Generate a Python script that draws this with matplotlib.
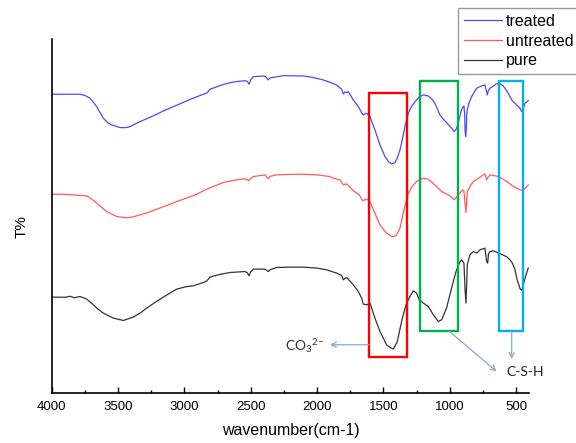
import matplotlib
matplotlib.use('Agg')
import matplotlib.pyplot as plt
from matplotlib.patches import Rectangle
from matplotlib.ticker import MultipleLocator

# ---------------- data ----------------
wn_treated = [4000, 3900, 3787, 3750, 3711, 3661, 3611, 3580, 3548, 3485, 3440, 3410, 3335, 3270,
              3209, 3150, 3083, 2983, 2920, 2857, 2830, 2807, 2730, 2656, 2600, 2543, 2525, 2513,
              2500, 2481, 2393, 2380, 2368, 2355, 2342, 2254, 2104, 2030, 1953, 1900, 1853, 1815,
              1802, 1790, 1777, 1765, 1727, 1689, 1664, 1652, 1640,
              1626, 1601, 1564, 1526, 1488, 1460, 1438, 1413, 1395, 1375, 1355, 1338, 1312, 1290,
              1262, 1230, 1199, 1162, 1135, 1112, 1090, 1074, 1050, 1024, 986, 966, 950, 936, 920,
              911, 900, 893, 888, 884, 880, 876, 872, 868, 855, 835, 815, 797, 772, 750, 735, 725,
              717, 710, 697, 670, 650, 629, 600, 584, 565, 546, 528, 508, 490, 470, 457, 445, 433,
              420, 408]
t_treated = [298.7, 298.7, 298.7, 297.5, 294.7, 286.3, 274.7, 270.5, 268, 265.3, 265.3, 266.3, 271.3, 275,
             278.7, 282.5, 286.3, 292, 295.5, 298.7, 300, 303.7, 307.5, 310.3, 311.5, 312.3, 311.5, 308.7,
             313, 316.3, 317, 315, 313, 315, 315.3, 317.3, 317, 315.5, 313, 310.5, 308, 303.7,
             299, 301, 300.3, 301.3, 293, 286.3, 280.3, 278, 279,
             279.7, 276.3, 263, 248, 236.3, 231, 229, 230.3, 235, 243, 255, 266.3, 279.7, 286,
             291.3, 296, 298, 297, 294, 289.7, 283, 278, 274, 270.3, 264.7, 261.3, 264, 269.7, 279,
             283, 286, 287, 280, 262, 256.3, 262, 278, 283, 290, 296.3, 301, 304.7, 306.3, 307.5, 308, 303,
             298, 302, 304.7, 307, 309, 309.7, 307.5, 304.7, 301, 296.3, 292, 289.7, 287, 284.7, 281.3, 285, 289.7,
             291, 292.3]

wn_untreated = [4000, 3900, 3736, 3700, 3661, 3620, 3586, 3510, 3435, 3385, 3335, 3270, 3209, 3130,
                3058, 2980, 2907, 2832, 2770, 2707, 2630, 2556, 2530, 2513, 2500, 2481, 2393, 2380,
                2368, 2355, 2305, 2200, 2104, 2000, 1903, 1878, 1827, 1815, 1802, 1777, 1727, 1682,
                1657, 1626, 1601, 1564, 1526, 1481,
                1438, 1405, 1375, 1345, 1312, 1280, 1250, 1199, 1162, 1112, 1061, 1011, 985, 966,
                950, 936, 903, 893, 885, 878, 872, 868, 845, 822, 772, 735, 722, 710, 697, 629, 571,
                545, 521, 490, 470, 451, 430, 408]
t_untreated = [198.7, 198.5, 197, 194, 189.7, 185, 181.3, 176.3, 175, 176, 178, 180.5, 183.7, 187.5,
               191.3, 195, 198.7, 203.7, 207, 210.3, 212.5, 214, 213.5, 212.3, 214.5, 216.3, 218, 216,
               214, 216.5, 218, 218.5, 218.7, 218, 216.3, 214.7, 213, 210.3, 208, 209, 202.3, 198,
               192.3, 193.7, 191.3, 179.7, 168, 160.3,
               156.3, 157, 164.7, 183, 199.7, 207, 211.3, 214.7, 213.7, 208, 201.3, 198, 195.5, 193,
               195.5, 198, 203, 201.3, 190, 180.3, 192, 201.3, 207, 211.3, 215.7, 219, 213, 216, 218, 216.3, 211.3,
               209, 206.3, 204.5, 203, 202.3, 204.7, 208]

wn_pure = [4000, 3900, 3860, 3830, 3787, 3736, 3686, 3650, 3611, 3536, 3460, 3385, 3330, 3284, 3220,
           3159, 3058, 2990, 2933, 2857, 2830, 2807, 2730, 2656, 2543, 2525, 2513, 2500, 2481, 2393,
           2380, 2368, 2355, 2305, 2200, 2104, 2000, 1928, 1853, 1815, 1802, 1790, 1777,
           1727, 1689, 1664, 1652, 1626, 1601, 1564, 1526, 1476, 1440, 1425,
           1395, 1363, 1330, 1300, 1275, 1250, 1230, 1199, 1162, 1124, 1086, 1061, 1024, 986, 953,
           928, 911, 893, 885, 878, 872, 868, 848, 822, 797, 772, 735, 722, 714, 708, 697, 672, 629,
           570, 546, 528, 510, 492, 470, 458, 445, 430, 408]
t_pure = [95.7, 95.5, 96.5, 95, 96.3, 93.7, 88, 83.5, 79.7, 74.7, 72.3, 75.7, 80, 84.7, 90.5,
          95.7, 103.7, 106, 107, 110.3, 112, 115.7, 118.5, 120.3, 121.3, 120, 117, 121, 123.7, 123.7,
          122.5, 121.3, 123, 125.3, 125.7, 125.7, 124.7, 123, 119.7, 117.3, 113, 114.5, 115.3,
          108, 101.3, 94.7, 88.7, 88, 89.7, 74.7, 61.3, 48, 44.5, 43.7,
          51.3, 71.3, 88, 96.3, 102, 99.7, 93, 89.7, 86.3, 78, 71.3, 73, 84.7, 104.7, 121.3,
          129.7, 133, 129.7, 104.7, 89.7, 110, 128, 138, 141.3, 139.7, 143, 144.7, 131.3, 129.7, 139, 141.3, 142, 139.7,
          136, 133, 129.7, 124, 113, 104, 102.5, 108, 116, 124.7]

series_labels = ['treated', 'untreated', 'pure']
series_colors = ['#4a4aff', '#ff5a5a', '#333333']

# highlighted bands: (wn_high, wn_low, t_bottom, t_top)
box_co3 = (1609, 1325, 36, 300.3)
box_csh1 = (1225, 940, 61.3, 312)
box_csh2 = (629, 451, 61.3, 312)
box_colors = ['#ff0000', '#00b050', '#00b0f0']

label_co3 = r'CO$_3$$^{2\mathrm{-}}$'
label_csh = 'C-S-H'

# ---------------- figure ----------------
plt.rcParams['font.family'] = ['Liberation Sans', 'DejaVu Sans']
plt.rcParams['mathtext.fontset'] = 'custom'
plt.rcParams['mathtext.rm'] = 'Lato'
plt.rcParams['mathtext.it'] = 'Lato:italic'
plt.rcParams['mathtext.bf'] = 'Lato:bold'

fig = plt.figure(figsize=(5.76, 4.43), dpi=100)
ax = fig.add_axes([0.0898, 0.1135, 0.8292, 0.7985])

for wn, t, lab, col in zip([wn_treated, wn_untreated, wn_pure],
                           [t_treated, t_untreated, t_pure],
                           series_labels, series_colors):
    ax.plot(wn, t, color=col, lw=0.9, label=lab)

for (w1, w2, b, tp), c in zip([box_co3, box_csh1, box_csh2], box_colors):
    ax.add_patch(Rectangle((w2, b), w1 - w2, tp - b, fill=False, edgecolor=c, lw=1.7, zorder=3))

arrow_col = '#86a8d8'
ap = dict(arrowstyle='->', color=arrow_col, lw=0.9, shrinkA=0, shrinkB=0,
          mutation_scale=9)
# CO3 arrow from left side of red box
ax.annotate('', xy=(1903, 48), xytext=(box_co3[0], 48), arrowprops=ap)
ax.text(2241, 47, label_co3, fontsize=10, family='Lato', color='#333333', ha='left', va='center')
# C-S-H arrows
ax.annotate('', xy=(647, 21.3), xytext=(1002, box_csh1[2]), arrowprops=ap)
ax.annotate('', xy=(533, 33.7), xytext=(533, box_csh2[2]), arrowprops=ap)
ax.text(575, 20.3, label_csh, fontsize=10, family='Lato', color='#222222', ha='left', va='center')

ax.set_xlim(4000, 400)
ax.set_ylim(0, 354)
ax.spines[['top', 'right']].set_visible(False)
ax.spines['left'].set_linewidth(1.2)
ax.spines['bottom'].set_linewidth(1.2)
ax.set_yticks([])
ax.xaxis.set_major_locator(MultipleLocator(500))
ax.xaxis.set_minor_locator(MultipleLocator(250))
ax.tick_params(axis='x', which='major', direction='in', length=4, width=1, labelsize=9.5, pad=6)
ax.tick_params(axis='x', which='minor', direction='in', length=2, width=1)

ax.set_xlabel('wavenumber(cm-1)', fontsize=11.5, labelpad=7)
ax.set_ylabel('T%', fontsize=11)
ax.yaxis.set_label_coords(-0.048, 0.47)

leg = ax.legend(loc='upper left', bbox_to_anchor=(458.3 / 576, 1 - 8.3 / 443),
                bbox_transform=fig.transFigure, fontsize=11.5, handlelength=2.4,
                handletextpad=0.25, labelspacing=0.3, borderpad=0.35, borderaxespad=0,
                fancybox=False, frameon=True)
leg.get_frame().set_edgecolor('#808080')
leg.get_frame().set_linewidth(1.0)

fig.savefig('out.png', dpi=100)
